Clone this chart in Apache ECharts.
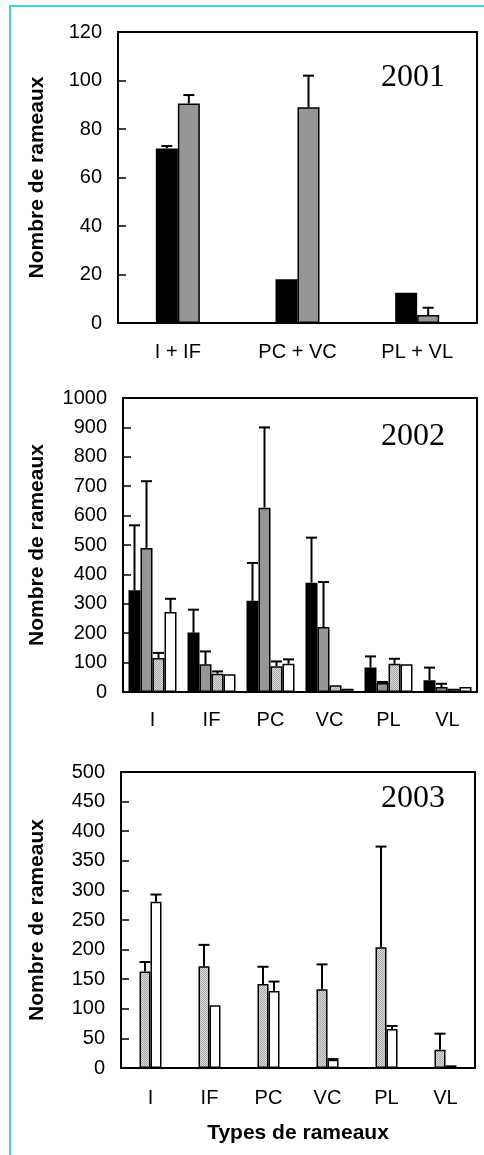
<!DOCTYPE html>
<html>
<head>
<meta charset="utf-8">
<script src="https://cdn.jsdelivr.net/npm/echarts@6/dist/echarts.min.js"></script>
<style>
  html, body { margin: 0; padding: 0; background: #fff; }
  #chart { width: 484px; height: 1155px; }
</style>
</head>
<body>
<div id="chart"></div>
<script>
// 2001
const cats2001 = ['I + IF', 'PC + VC', 'PL + VL'];
const black2001 = [72, 18, 12.5];
const black2001Err = [73, null, null];
const gray2001 = [90.5, 89, 3.3];
const gray2001Err = [94, 102, 6.3];

// 2002
const cats2002 = ['I', 'IF', 'PC', 'VC', 'PL', 'VL'];
const black2002 = [346, 202, 310, 372, 83, 40];
const black2002Err = [567, 280, 439, 525, 121, 83];
const gray2002 = [490, 94, 627, 221, 31, 17];
const gray2002Err = [717, 138, 900, 374, 34, 28];
const hatch2002 = [116, 62, 88, 23, 96, 11];
const hatch2002Err = [133, 70, 104, null, 113, null];
const white2002 = [272, 60, 96, 11, 94, 17];
const white2002Err = [317, null, 111, null, null, null];

// 2003
const cats2003 = ['I', 'IF', 'PC', 'VC', 'PL', 'VL'];
const hatch2003 = [163, 172, 142, 133, 204, 31];
const hatch2003Err = [179, 208, 171, 175, 374, 58];
const white2003 = [281, 106, 130, 14, 66, 4.5];
const white2003Err = [293, null, 146, 15, 71, null];

const yMax = [120, 1000, 500];
const yStep = [20, 100, 50];

const FONT = '"Liberation Sans", Arial, sans-serif';

// fine dotted light-grey fill
const pat = document.createElement('canvas');
pat.width = 2; pat.height = 2;
const pc = pat.getContext('2d');
pc.fillStyle = '#dadada';
pc.fillRect(0, 0, 2, 2);
pc.fillStyle = '#a8a8a8';
pc.fillRect(0, 0, 1, 1);
pc.fillRect(1, 1, 1, 1);
const hatchFill = { image: pat, repeat: 'repeat' };

const grids = [
  { left: 118, right: 7, top: 32, height: 291 },
  { left: 123, right: 7, top: 398, height: 294 },
  { left: 121, right: 9, top: 772, height: 296 }
];
const barW = [22, 12, 11];

function barSeries(g, data, color) {
  return {
    type: 'bar', xAxisIndex: g, yAxisIndex: g, data: data,
    barWidth: barW[g], barGap: '0%',
    itemStyle: { color: color, borderColor: '#000', borderWidth: 1.5 },
    silent: true
  };
}

function errSeries(g, k, n, vals, ups) {
  const data = [];
  vals.forEach((v, i) => { if (ups[i] != null) data.push([i, v, ups[i]]); });
  return {
    type: 'custom', xAxisIndex: g, yAxisIndex: g, z: 5, silent: true,
    data: data,
    renderItem: function (params, api) {
      const base = api.coord([api.value(0), api.value(1)]);
      const top = api.coord([api.value(0), api.value(2)]);
      const x = base[0] + (k - (n - 1) / 2) * barW[g];
      const cap = 5.5;
      const st = { stroke: '#000', lineWidth: 2 };
      return {
        type: 'group',
        children: [
          { type: 'line', shape: { x1: x, y1: base[1], x2: x, y2: top[1] }, style: st },
          { type: 'line', shape: { x1: x - cap, y1: top[1], x2: x + cap, y2: top[1] }, style: st }
        ]
      };
    }
  };
}

const catSets = [cats2001, cats2002, cats2003];
const labelMargin = [19, 18, 20];
const nameGaps = [70, 75, 73];

const xAxes = catSets.map((c, g) => ({
  type: 'category', gridIndex: g, data: c,
  axisLine: { lineStyle: { color: '#000', width: 2 } },
  axisTick: { show: false },
  axisLabel: { color: '#000', fontFamily: FONT, fontSize: 20, margin: labelMargin[g], interval: 0 },
  name: g === 2 ? 'Types de rameaux' : '',
  nameLocation: 'middle', nameGap: 55,
  nameTextStyle: { color: '#000', fontFamily: FONT, fontSize: 21, fontWeight: 'bold' }
}));

const yAxes = [0, 1, 2].map(g => ({
  type: 'value', gridIndex: g, min: 0, max: yMax[g], interval: yStep[g],
  axisLine: { show: true, lineStyle: { color: '#000', width: 2 } },
  axisTick: { show: true, inside: true, length: 8, lineStyle: { color: '#000', width: 1.5 } },
  axisLabel: { color: '#000', fontFamily: FONT, fontSize: 20, margin: 16, formatter: v => String(v) },
  splitLine: { show: false },
  name: 'Nombre de rameaux', nameLocation: 'middle', nameGap: nameGaps[g],
  nameTextStyle: { color: '#000', fontFamily: FONT, fontSize: 21, fontWeight: 'bold' }
}));

const series = [
  barSeries(0, black2001, '#000'),
  barSeries(0, gray2001, '#969696'),
  errSeries(0, 0, 2, black2001, black2001Err),
  errSeries(0, 1, 2, gray2001, gray2001Err),

  barSeries(1, black2002, '#000'),
  barSeries(1, gray2002, '#969696'),
  barSeries(1, hatch2002, hatchFill),
  barSeries(1, white2002, '#fff'),
  errSeries(1, 0, 4, black2002, black2002Err),
  errSeries(1, 1, 4, gray2002, gray2002Err),
  errSeries(1, 2, 4, hatch2002, hatch2002Err),
  errSeries(1, 3, 4, white2002, white2002Err),

  barSeries(2, hatch2003, hatchFill),
  barSeries(2, white2003, '#fff'),
  errSeries(2, 0, 2, hatch2003, hatch2003Err),
  errSeries(2, 1, 2, white2003, white2003Err)
];

const years = ['2001', '2002', '2003'];
const yearY = [78, 437, 799];

const chart = echarts.init(document.getElementById('chart'), null, { renderer: 'canvas' });
chart.setOption({
  animation: false,
  backgroundColor: '#fff',
  grid: grids.map(g => Object.assign({ show: true, borderColor: '#000', borderWidth: 2, backgroundColor: 'transparent' }, g)),
  xAxis: xAxes,
  yAxis: yAxes,
  series: series,
  graphic: [
    { type: 'line', shape: { x1: 9, y1: 6, x2: 484, y2: 6 }, style: { stroke: '#40d2d4', lineWidth: 2 } },
    { type: 'line', shape: { x1: 10, y1: 5, x2: 10, y2: 1155 }, style: { stroke: '#40d2d4', lineWidth: 2 } }
  ].concat(years.map((t, i) => ({
    type: 'text', x: 413, y: yearY[i], z: 10,
    style: { text: t, fill: '#000', font: '32px "Liberation Serif", "Times New Roman", serif', textAlign: 'center', textVerticalAlign: 'middle' }
  })))
});
</script>
</body>
</html>
